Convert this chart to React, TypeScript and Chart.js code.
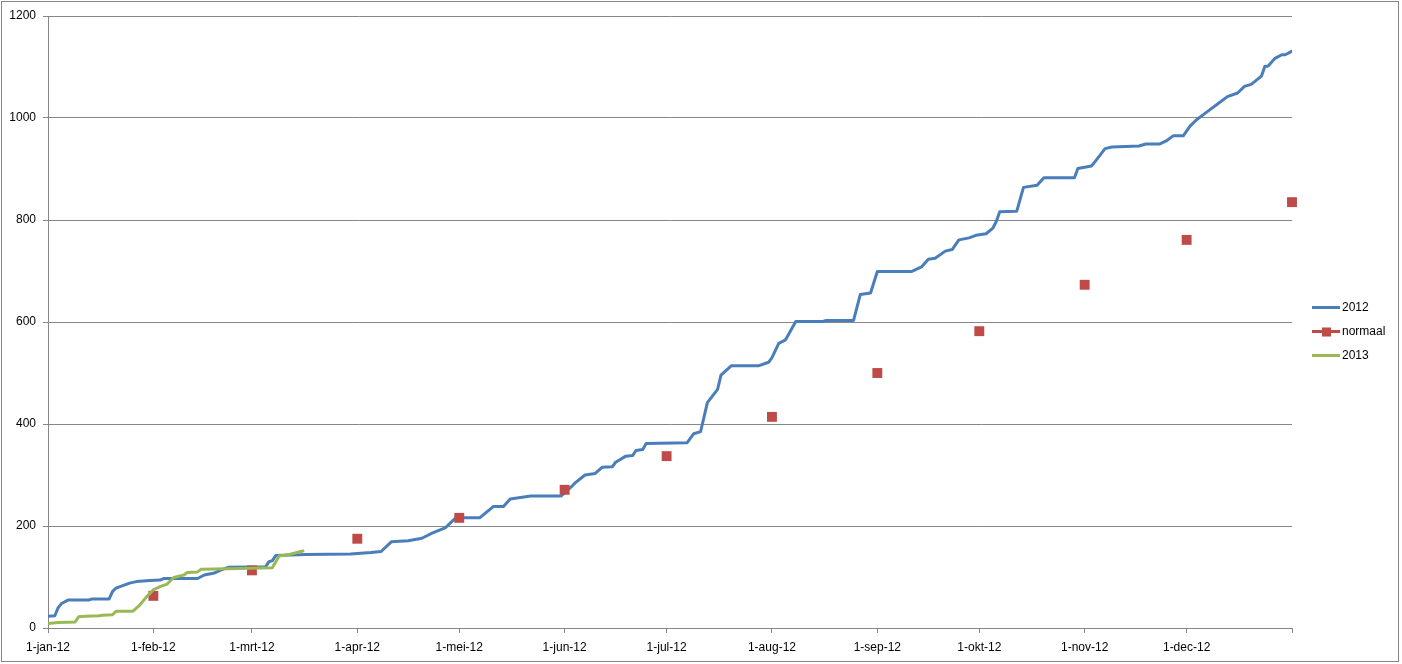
import { useEffect, useRef } from "react"
import { Chart, registerables } from "chart.js"

Chart.register(...registerables)

// x values are day numbers counted from 1-jan-12 (0) to 1-jan-13 (366)
const monthStarts = [0, 31, 60, 91, 121, 152, 182, 213, 244, 274, 305, 335, 366]
const tickLabels = [
  "1-jan-12", "1-feb-12", "1-mrt-12", "1-apr-12", "1-mei-12", "1-jun-12",
  "1-jul-12", "1-aug-12", "1-sep-12", "1-okt-12", "1-nov-12", "1-dec-12", "",
]

const days2012 = [
  0, 2, 3, 4, 6, 12, 13, 18, 19, 20, 24, 26, 30, 33, 34, 44, 46, 49, 51, 53,
  64, 65, 66, 67, 76, 89, 95, 98, 101, 106, 110, 113, 117, 119, 120, 127, 131,
  134, 136, 142, 151, 154, 155, 158, 161, 163, 166, 167, 170, 172, 173, 175,
  176, 188, 190, 192, 194, 197, 198, 201, 209, 212, 213, 215, 217, 220, 228,
  229, 237, 239, 242, 244, 254, 257, 259, 261, 264, 266, 268, 271, 273, 276,
  278, 279, 280, 285, 287, 291, 293, 302, 303, 307, 308, 311, 313, 317, 321,
  323, 327, 329, 331, 334, 336, 338, 341, 344, 347, 350, 352, 354, 357, 358,
  359, 361, 363, 364, 366,
]
const values2012 = [
  23, 24, 40, 48, 55, 55, 57, 57, 72, 78, 88, 91, 93, 94, 97, 97, 104, 108, 114, 119,
  120, 130, 132, 142, 144, 145, 148, 150, 169, 171, 176, 186, 197, 210, 216, 216, 238,
  238, 253, 259, 259, 277, 284, 300, 303, 315, 316, 325, 337, 338, 348, 350,
  362, 363, 381, 385, 442, 468, 496, 514, 514, 521, 530, 558, 565, 601, 601,
  603, 603, 654, 657, 699, 699, 708, 723, 725, 739, 742, 761, 765, 770, 773,
  784, 797, 816, 817, 864, 868, 883, 883, 901, 906, 914, 940, 943, 944, 945,
  949, 949, 955, 965, 965, 984, 997, 1012, 1027, 1042, 1049, 1062, 1066, 1082, 1101,
  1102, 1117, 1124, 1124, 1131,
]

const daysNormaal = [31, 60, 91, 121, 152, 182, 213, 244, 274, 305, 335, 366]
const valuesNormaal = [63, 113, 175, 216, 271, 337, 414, 500, 582, 673, 761, 835]

const days2013 = [0, 3, 8, 9, 11, 15, 16, 19, 20, 25, 27, 29, 31, 33, 35, 37, 40, 41, 44, 45, 53, 66, 68, 71, 75]
const values2013 = [9, 11, 12, 22, 23, 24, 25, 26, 33, 33, 45, 61, 75, 81, 86, 99, 104, 109, 110, 115, 116, 118, 141, 144, 151]

const BLUE = "#4A7EBB"
const RED = "#BE4B48"
const GREEN = "#98B954"
const GRID = "#868686"

const toPoints = (xs: number[], ys: number[]) => xs.map((x, i) => ({ x, y: ys[i] }))

// white background, outer frame and an Excel style legend on the right
const framePlugin = {
  id: "frame",
  beforeDraw(chart: Chart) {
    const { ctx, width, height } = chart
    ctx.save()
    ctx.fillStyle = "#fff"
    ctx.fillRect(0, 0, width, height)
    ctx.strokeStyle = GRID
    ctx.lineWidth = 1
    ctx.strokeRect(1.5, 1.5, width - 5, height - 4)
    ctx.restore()
  },
  afterDraw(chart: Chart) {
    const { ctx } = chart
    const items = [
      { label: "2012", color: BLUE, marker: false, y: 307.5 },
      { label: "normaal", color: RED, marker: true, y: 331.5 },
      { label: "2013", color: GREEN, marker: false, y: 355.5 },
    ]
    ctx.save()
    ctx.font = "12px 'Liberation Sans', Arial, sans-serif"
    ctx.textBaseline = "middle"
    ctx.fillStyle = "#000"
    for (const it of items) {
      ctx.strokeStyle = it.color
      ctx.lineWidth = 3
      ctx.beginPath()
      ctx.moveTo(1312, it.y)
      ctx.lineTo(1340, it.y)
      ctx.stroke()
      if (it.marker) {
        ctx.fillStyle = it.color
        ctx.fillRect(1322, it.y - 4, 9, 9)
        ctx.fillStyle = "#000"
      }
      ctx.fillText(it.label, 1342, it.y + 0.5)
    }
    ctx.restore()
  },
}

export default function App() {
  const chartRef = useRef<HTMLCanvasElement>(null)
  const chartInstance = useRef<Chart | null>(null)

  useEffect(() => {
    if (!chartRef.current) return
    if (chartInstance.current) chartInstance.current.destroy()

    const ctx = chartRef.current.getContext("2d")
    if (!ctx) return

    Chart.defaults.font.family = "'Liberation Sans', Arial, sans-serif"
    Chart.defaults.font.size = 12
    Chart.defaults.color = "#000"

    chartInstance.current = new Chart(ctx, {
      type: "line",
      data: {
        datasets: [
          {
            label: "2012",
            data: toPoints(days2012, values2012),
            borderColor: BLUE,
            borderWidth: 3,
            pointRadius: 0,
            borderJoinStyle: "round",
            borderCapStyle: "round",
            order: 3,
          },
          {
            label: "normaal",
            data: toPoints(daysNormaal, valuesNormaal),
            showLine: false,
            pointStyle: "rect",
            pointRadius: 7,
            pointBorderWidth: 0,
            pointBackgroundColor: RED,
            borderColor: RED,
            backgroundColor: RED,
            clip: false,
            order: 2,
          },
          {
            label: "2013",
            data: toPoints(days2013, values2013),
            borderColor: GREEN,
            borderWidth: 3,
            pointRadius: 0,
            borderJoinStyle: "round",
            borderCapStyle: "round",
            order: 1,
          },
        ],
      },
      options: {
        animation: false,
        responsive: true,
        maintainAspectRatio: false,
        layout: {
          padding: { left: 0, right: 110, top: 16, bottom: 0 },
        },
        scales: {
          x: {
            type: "linear",
            min: 0,
            max: 366,
            afterBuildTicks: (scale) => {
              scale.ticks = monthStarts.map((value) => ({ value }))
            },
            afterFit: (scale) => {
              scale.height = 36
            },
            ticks: {
              autoSkip: false,
              maxRotation: 0,
              padding: 7,
              callback: (_value, index) => tickLabels[index],
            },
            grid: {
              drawOnChartArea: false,
              drawTicks: true,
              tickLength: 5,
              color: GRID,
            },
            border: { color: GRID },
          },
          y: {
            min: 0,
            max: 1200,
            afterFit: (scale) => {
              scale.width = 48
            },
            ticks: {
              stepSize: 200,
              padding: 7,
              callback: (value) => String(value),
            },
            grid: {
              color: GRID,
              tickLength: 5,
            },
            border: { color: GRID },
          },
        },
        plugins: {
          legend: { display: false },
          tooltip: { enabled: false },
        },
      },
      plugins: [framePlugin],
    })

    return () => {
      if (chartInstance.current) {
        chartInstance.current.destroy()
        chartInstance.current = null
      }
    }
  }, [])

  return (
    <div style={{ position: "absolute", left: 0, top: 0, width: 1402, height: 664 }}>
      <canvas ref={chartRef} />
    </div>
  )
}
